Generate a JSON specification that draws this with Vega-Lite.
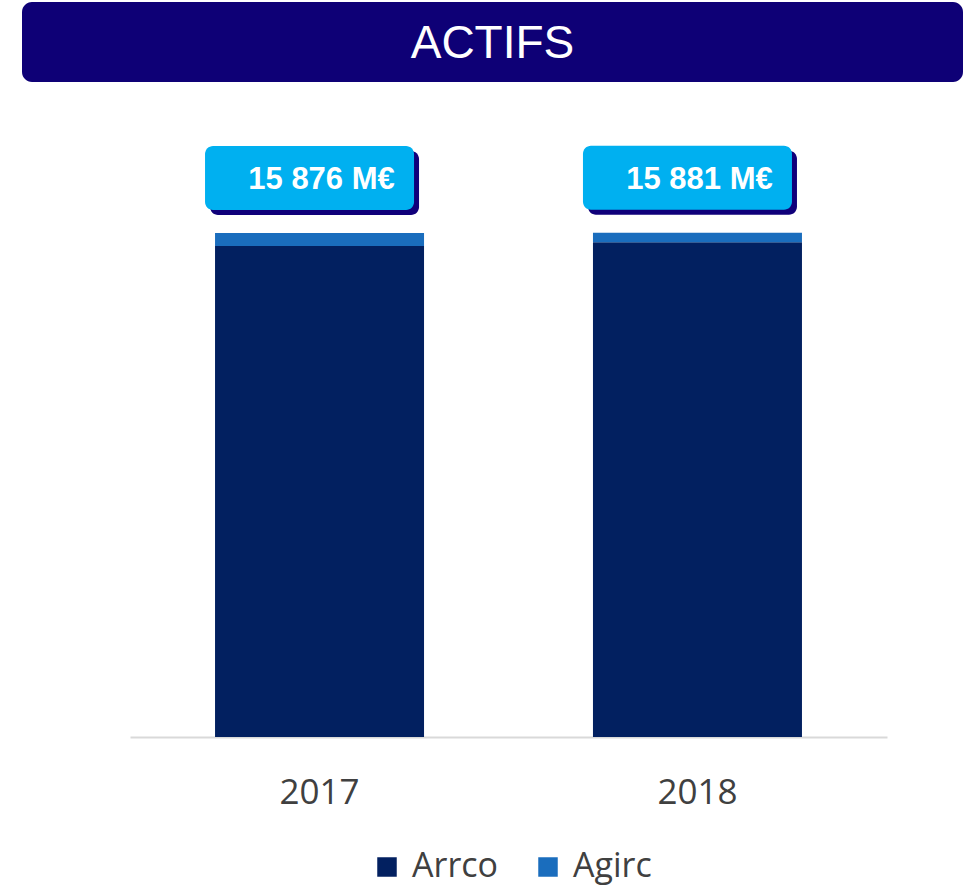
{
  "$schema": "https://vega.github.io/schema/vega-lite/v6.json",
  "padding": {"left": 22, "top": 2, "right": 10, "bottom": 12},
  "spacing": 20,
  "config": {
    "view": {"stroke": null},
    "locale": {"number": {"decimal": ",", "thousands": " ", "grouping": [3], "currency": ["", " M€"]}}
  },
  "datasets": {
    "actifs": [
      {"year": "2017", "regime": "Arrco", "value": 15466},
      {"year": "2017", "regime": "Agirc", "value": 410},
      {"year": "2018", "regime": "Arrco", "value": 15581},
      {"year": "2018", "regime": "Agirc", "value": 300}
    ],
    "titre": [{"title": "ACTIFS"}]
  },
  "vconcat": [
    {
      "width": 941,
      "height": 80,
      "data": {"name": "titre"},
      "layer": [
        {"mark": {"type": "rect", "fill": "#0e0076", "cornerRadius": 10}, "encoding": {}},
        {
          "mark": {"type": "text", "font": "Liberation Sans", "fontSize": 46, "color": "#ffffff", "align": "center", "baseline": "middle", "dy": 2},
          "encoding": {"text": {"field": "title"}}
        }
      ]
    },
    {
      "width": 941,
      "height": 635,
      "data": {"name": "actifs"},
      "encoding": {
        "x": {
          "field": "year",
          "type": "ordinal",
          "scale": {"range": [108, 865], "paddingInner": 0.447, "paddingOuter": 0.225},
          "axis": {
            "title": null,
            "labelAngle": 0,
            "ticks": false,
            "tickSize": 0,
            "domainColor": "#d9d9d9",
            "domainWidth": 2,
            "labelFont": "Open Sans",
            "labelFontSize": 35,
            "labelColor": "#404040",
            "labelPadding": 38
          }
        }
      },
      "layer": [
        {
          "mark": {"type": "bar"},
          "encoding": {
            "y": {"field": "value", "type": "quantitative", "stack": "zero", "scale": {"domain": [0, 20000], "nice": false}, "axis": null},
            "color": {
              "field": "regime",
              "type": "nominal",
              "sort": "descending",
              "scale": {"domain": ["Arrco", "Agirc"], "range": ["#022060", "#1a6dbd"]},
              "legend": {
                "title": null,
                "orient": "none",
                "direction": "horizontal",
                "legendX": 348,
                "legendY": 848,
                "symbolType": "square",
                "symbolSize": 380,
                "symbolStrokeWidth": 0,
                "symbolOpacity": 1,
                "labelFont": "Open Sans",
                "labelFontSize": 34,
                "labelColor": "#404040",
                "labelOffset": 8,
                "columnPadding": 32,
                "labelLimit": 300
              }
            }
          }
        },
        {
          "transform": [{"aggregate": [{"op": "sum", "field": "value", "as": "total"}], "groupby": ["year"]}],
          "mark": {"type": "rect", "fill": "#10007a", "cornerRadius": 8, "xOffset": -5, "x2Offset": 18, "yOffset": -82, "y2Offset": -18},
          "encoding": {"y": {"field": "total", "type": "quantitative"}, "y2": {"field": "total"}}
        },
        {
          "transform": [{"aggregate": [{"op": "sum", "field": "value", "as": "total"}], "groupby": ["year"]}],
          "mark": {"type": "rect", "fill": "#00b0f0", "cornerRadius": 8, "xOffset": -10, "x2Offset": 13, "yOffset": -87, "y2Offset": -23},
          "encoding": {"y": {"field": "total", "type": "quantitative"}, "y2": {"field": "total"}}
        },
        {
          "transform": [{"aggregate": [{"op": "sum", "field": "value", "as": "total"}], "groupby": ["year"]}],
          "mark": {"type": "text", "font": "Liberation Sans", "fontWeight": "bold", "fontSize": 31, "color": "#ffffff", "align": "center", "baseline": "middle", "dx": 2, "dy": -53},
          "encoding": {"y": {"field": "total", "type": "quantitative"}, "text": {"field": "total", "type": "quantitative", "format": "$,.0f"}}
        }
      ]
    }
  ]
}
